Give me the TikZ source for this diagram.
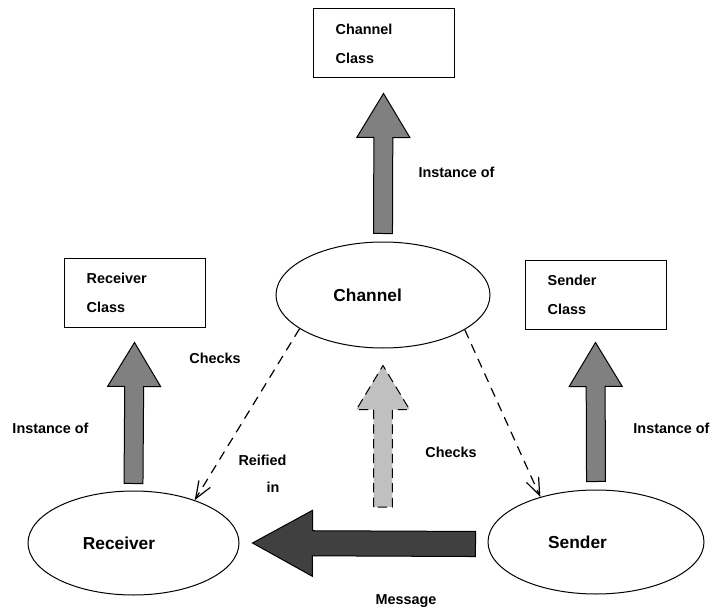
\documentclass[tikz,border=0pt]{standalone}
\usepackage{fontspec}
\setmainfont{Liberation Sans}
\usetikzlibrary{shapes.geometric,arrows.meta,calc}

\definecolor{instgray}{HTML}{808080}
\definecolor{checkgray}{HTML}{C0C0C0}
\definecolor{msggray}{HTML}{404040}

\tikzset{
	classbox/.style={draw, rectangle, minimum width=105.75pt, minimum height=51.75pt,
		inner xsep=17pt, text width=71.75pt, align=left},
	objnode/.style={draw, ellipse, inner sep=0pt, font=\fontsize{13}{15}\selectfont\bfseries},
	checkline/.style={line width=0.9pt, dash pattern=on 7pt off 5pt,
		-{Straight Barb[length=13pt,width=10pt]}},
	lbl/.style={inner sep=0pt}
}

% fat block arrow: style, from, to, shaft half width, head half width, head length
\newcommand{\fatarrow}[6]{%
	\coordinate (fa-h) at ($(#3)!#6!(#2)$);
	\draw[#1] ($(#2)!#4!90:(#3)$) -- ($(fa-h)!#4!-90:(#2)$) -- ($(fa-h)!#5!-90:(#2)$) -- (#3)
		-- ($(fa-h)!#5!90:(#2)$) -- ($(fa-h)!#4!90:(#2)$) -- ($(#2)!#4!-90:(#3)$) -- cycle;
}

\begin{document}
\begin{tikzpicture}[x=0.75pt, y=-0.75pt, line width=0.75pt,
		font=\fontsize{10.8}{21.75}\selectfont\bfseries]
	\useasboundingbox (0,0) rectangle (711,610);

	% classes
	\node[classbox] (chancls) at (383.5,43.5) {Channel\\Class};
	\node[classbox] (reccls) at (134.5,292.5) {Receiver\\Class};
	\node[classbox] (sendcls) at (595.5,294.5) {Sender\\Class};

	% objects
	\node[objnode, minimum width=160.5pt, minimum height=79.5pt] (channel) at (383,295) {Channel\hspace*{23pt}};
	\node[objnode, minimum width=158.25pt, minimum height=78pt] (receiver) at (133.5,543) {Receiver\hspace*{21.75pt}};
	\node[objnode, minimum width=162pt, minimum height=78pt] (sender) at (596,542) {Sender\hspace*{27.75pt}};

	% instance of
	\coordinate (cc-base) at ($(channel.north)+(0,-8)$);
	\coordinate (cc-tip) at ($(chancls.south)+(0,15)$);
	\coordinate (rc-base) at ($(receiver.north)+(0,-7)$);
	\coordinate (rc-tip) at ($(reccls.south)+(0,15)$);
	\coordinate (sc-base) at ($(sender.north)+(0,-8)$);
	\coordinate (sc-tip) at ($(sendcls.south)+(0,13)$);
	\fatarrow{fill=instgray}{cc-base}{cc-tip}{7.1pt}{19.9pt}{33pt}
	\fatarrow{fill=instgray}{rc-base}{rc-tip}{7.1pt}{19.9pt}{33pt}
	\fatarrow{fill=instgray}{sc-base}{sc-tip}{7.1pt}{19.9pt}{33pt}

	% checks
	\coordinate (ck-base) at (383,507);
	\coordinate (ck-tip) at ($(channel.south)+(0,17)$);
	\fatarrow{fill=checkgray, dash pattern=on 7pt off 4pt}{ck-base}{ck-tip}{7.1pt}{19.9pt}{33pt}
	\draw[checkline] (channel.202) -- (receiver.35);
	\draw[checkline] (channel.337) -- (sender.141);

	% message
	\coordinate (msg-base) at ($(sender.west)+(-12,2)$);
	\coordinate (msg-tip) at ($(receiver.east)+(13,0)$);
	\fatarrow{fill=msggray}{msg-base}{msg-tip}{9.4pt}{24.75pt}{45pt}

	% labels
	\node[lbl, anchor=west] (inst-top) at (418,172) {Instance of};
	\node[lbl, anchor=west] (inst-left) at (12,428) {Instance of};
	\node[lbl, anchor=east] (inst-right) at (710,428) {Instance of};
	\node[lbl] (chk-left) at (215,358) {Checks};
	\node[lbl] (chk-mid) at (451,452) {Checks};
	\node[lbl, anchor=west] (reified) at (238,460) {Reified};
	\node[lbl, anchor=west] (reified-in) at (266,487) {in};
	\node[lbl] (msg-lbl) at (406,601) {Message};
\end{tikzpicture}
\end{document}
